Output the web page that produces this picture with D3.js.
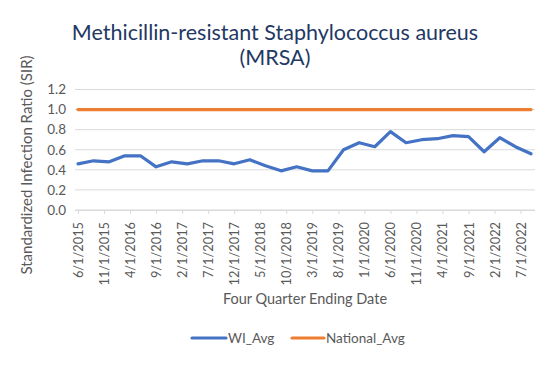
<!DOCTYPE html>
<html>
<head>
<meta charset="utf-8">
<script src="https://cdn.jsdelivr.net/npm/d3@7"></script>
<style>
  html, body { margin: 0; padding: 0; background: #fff; }
  svg { display: block; font-family: Lato, "Open Sans", sans-serif; }
</style>
</head>
<body>
<svg id="chart" width="551" height="367"></svg>
<script>
// ---- data ----
const startDate = "6/1/2015";
const monthStep = 3; // quarterly points
const wiAvg = [0.46, 0.49, 0.48, 0.54, 0.54, 0.43, 0.48, 0.46, 0.49, 0.49,
               0.46, 0.50, 0.44, 0.39, 0.43, 0.39, 0.39, 0.60, 0.67, 0.63,
               0.78, 0.67, 0.70, 0.71, 0.74, 0.73, 0.58, 0.72, 0.63, 0.56];
const nationalAvg = wiAvg.map(() => 1.0);
const yTicks = [0.0, 0.2, 0.4, 0.6, 0.8, 1.0, 1.2];
const xTickLabels = ["6/1/2015","11/1/2015","4/1/2016","9/1/2016","2/1/2017","7/1/2017",
  "12/1/2017","5/1/2018","10/1/2018","3/1/2019","8/1/2019","1/1/2020","6/1/2020",
  "11/1/2020","4/1/2021","9/1/2021","2/1/2022","7/1/2022"];
const seriesNames = ["WI_Avg", "National_Avg"];
const titleLines = ["Methicillin-resistant Staphylococcus aureus", "(MRSA)"];
const yTitle = "Standardized Infection Ratio (SIR)";
const xTitle = "Four Quarter Ending Date";

// ---- helpers ----
function monthIndex(s) {
  const [m, d, y] = s.split("/").map(Number);
  const [m0, d0, y0] = startDate.split("/").map(Number);
  return (y - y0) * 12 + (m - m0);
}

const svg = d3.select("#chart");
const colors = { WI_Avg: "#4472C4", National_Avg: "#ED7D31" };
const textGray = "#595959";

const nPts = wiAvg.length;
const lastMonth = (nPts - 1) * monthStep;
const x = d3.scaleLinear().domain([0, lastMonth]).range([78, 531]);
const y = d3.scaleLinear().domain([0, 1.2]).range([210, 89.5]);

// gridlines
svg.append("g").selectAll("line").data(yTicks).join("line")
  .attr("x1", 75).attr("x2", 535)
  .attr("y1", d => y(d)).attr("y2", d => y(d))
  .attr("stroke", "#D9D9D9").attr("stroke-width", 1);

// y axis labels
const yAxis = d3.axisLeft(y).tickValues(yTicks).tickFormat(d3.format(".1f")).tickSize(0).tickPadding(0);
const gy = svg.append("g").attr("transform", "translate(66,0)").call(yAxis);
gy.select(".domain").remove();
gy.selectAll("text").attr("fill", textGray).style("font-size", "13.5px")
  .style("font-family", "Lato, 'Open Sans', sans-serif");

// x axis
const xTickVals = xTickLabels.map(monthIndex);
const xAxis = d3.axisBottom(x).tickValues(xTickVals)
  .tickFormat((d, i) => xTickLabels[i]).tickSize(4).tickPadding(4);
const gx = svg.append("g").attr("transform", `translate(0,${y(0)})`).call(xAxis);
gx.select(".domain").attr("stroke", "#D9D9D9").attr("d", "M75,0.5H535");
gx.selectAll(".tick line").attr("stroke", "#D9D9D9");
gx.selectAll("text")
  .attr("fill", textGray)
  .style("font-size", "12.8px")
  .style("font-family", "Lato, 'Open Sans', sans-serif")
  .attr("text-anchor", "end")
  .attr("transform", "rotate(-90)")
  .attr("x", -12).attr("y", 0).attr("dy", "0.35em");

// lines
const line = d3.line().x((d, i) => x(i * monthStep)).y(d => y(d));
svg.append("path").datum(nationalAvg).attr("d", line)
  .attr("fill", "none").attr("stroke", colors.National_Avg).attr("stroke-width", 3.2)
  .attr("stroke-linecap", "round");
svg.append("path").datum(wiAvg).attr("d", line)
  .attr("fill", "none").attr("stroke", colors.WI_Avg).attr("stroke-width", 3.2)
  .attr("stroke-linejoin", "round").attr("stroke-linecap", "round");

// title
svg.append("text").attr("x", 275).attr("y", 40).attr("text-anchor", "middle")
  .attr("fill", "#1F3864").style("font-size", "21.5px").text(titleLines[0]);
svg.append("text").attr("x", 275).attr("y", 65).attr("text-anchor", "middle")
  .attr("fill", "#1F3864").style("font-size", "21.5px").text(titleLines[1]);

// y title
svg.append("text").attr("transform", "translate(32,165) rotate(-90)")
  .attr("text-anchor", "middle").attr("fill", textGray).style("font-size", "15px").text(yTitle);

// x title
svg.append("text").attr("x", 305).attr("y", 304).attr("text-anchor", "middle")
  .attr("fill", textGray).style("font-size", "14.5px").text(xTitle);

// legend
const legend = [
  { name: seriesNames[0], x1: 192, x2: 226, tx: 228 },
  { name: seriesNames[1], x1: 292, x2: 324, tx: 326 }
];
const lg = svg.append("g");
lg.selectAll("line").data(legend).join("line")
  .attr("x1", d => d.x1).attr("x2", d => d.x2).attr("y1", 338).attr("y2", 338)
  .attr("stroke", d => colors[d.name]).attr("stroke-width", 3.2).attr("stroke-linecap", "round");
lg.selectAll("text").data(legend).join("text")
  .attr("x", d => d.tx).attr("y", 338).attr("dy", "0.35em")
  .attr("fill", textGray).style("font-size", "13.5px").text(d => d.name);
</script>
</body>
</html>
